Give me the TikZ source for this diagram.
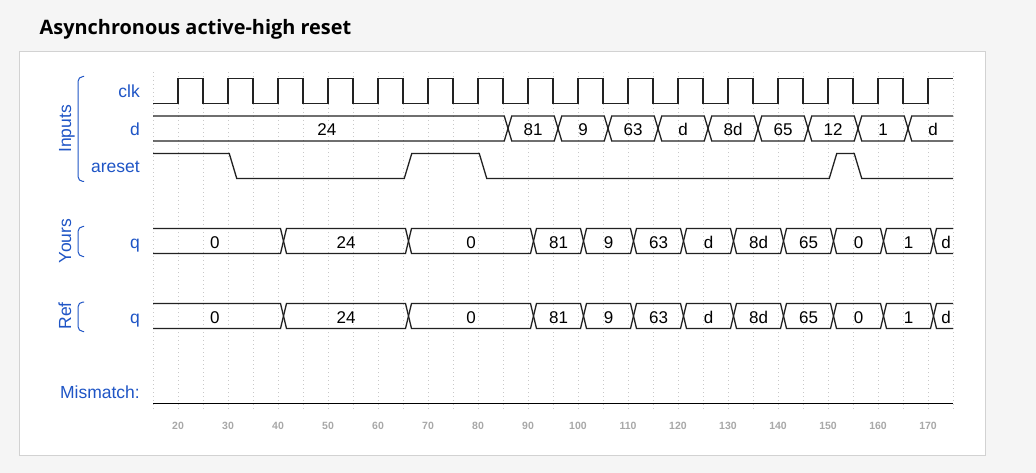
\documentclass[tikz,border=0pt]{standalone}
\usepackage{fontspec}
\setmainfont{Liberation Sans}
\newfontfamily\titlefont{Open Sans}
\usepackage{tikz}
\definecolor{lblblue}{HTML}{1F55C6}
\definecolor{gridgray}{HTML}{C8C8C8}
\definecolor{tickgray}{HTML}{A8A8A8}
\definecolor{panelline}{HTML}{D2D2D2}
\definecolor{pagebg}{HTML}{F5F5F5}
\definecolor{wave}{HTML}{222222}

\begin{document}
\begin{tikzpicture}[x = 1pt, y = -1pt,
    sig/.style = {draw = wave, line width = 1.3pt},
    siglabel/.style = {text = lblblue, font = \fontsize{17.5}{20}\selectfont, anchor = base east, inner sep = 0pt},
    grouplabel/.style = {text = lblblue, font = \fontsize{17.5}{20}\selectfont, rotate = 90, anchor = base, inner sep = 0pt},
    bracket/.style = {draw = lblblue, line width = 1pt, rounded corners = 5pt},
    busval/.style = {font = \fontsize{17}{19}\selectfont, anchor = base, inner sep = 0pt},
    ticklabel/.style = {text = tickgray, font = \bfseries\fontsize{10.5}{12}\selectfont, anchor = base, inner sep = 0pt},
    gridline/.style = {draw = gridgray, line width = 0.8pt, dash pattern = on 1pt off 3pt}]
    \useasboundingbox (0,0) rectangle (1036,473);
    \fill[pagebg] (0,0) rectangle (1036,473);
    \node[anchor = base west, inner sep = 0pt, font = \titlefont\bfseries\fontsize{19.9}{22}\selectfont] (title) at (39.5,35) {Asynchronous active-high reset};
    \draw[draw = panelline, fill = white] (19.5,51.5) rectangle (985.5,455.5);
        % Labels
    \node[siglabel] (clk) at (140,98) {clk};
    \node[siglabel] (d) at (140,135.5) {d};
    \node[siglabel] (areset) at (140,172.5) {areset};
    \node[siglabel] (yq) at (140,248) {q};
    \node[siglabel] (rq) at (140,323) {q};
    \node[siglabel] (mismatch) at (140,398) {Mismatch:};
    \node[grouplabel] (inputs) at (71,129) {Inputs};
    \node[grouplabel] (yours) at (71,241) {Yours};
    \node[grouplabel] (ref) at (71,316) {Ref};
    \draw[bracket] (84,76.5) -- (78,76.5) -- (78,181.5) -- (84,181.5);
    \draw[bracket] (84,226.5) -- (78,226.5) -- (78,256.5) -- (84,256.5);
    \draw[bracket] (84,302) -- (78,302) -- (78,331.5) -- (84,331.5);
        % Waves
    \begin{scope}[x = 5pt, xshift = 78pt]
        \foreach \tm in {15,20,...,175} \draw[gridline] (\tm,72) -- (\tm,409);
        \foreach \tm in {20,30,...,170} \node[ticklabel] (tick\tm) at (\tm,429) {\tm};
        \begin{scope}
            \clip (15,60) rectangle (175,420);
            \draw[sig] (15,103.5) \foreach \k in {20,30,...,160} { -- (\k,103.5) -- (\k,78.5) -- (\k+5,78.5) -- (\k+5,103.5) } -- (170,103.5) -- (170,78.5) -- (175,78.5);
            \foreach \ta/\tb/\v [count = \i] in {12.5/85/24, 85/95/81, 95/105/9, 105/115/63, 115/125/d, 125/135/8d, 135/145/65, 145/155/12, 155/165/1, 165/175/d} {
                \draw[sig] (\ta+1,128.5) -- (\ta+1.75,116) -- (\tb+0.25,116) -- (\tb+1,128.5) -- (\tb+0.25,141) -- (\ta+1.75,141) -- cycle;
                \node[busval] (dv\i) at ({(\ta+\tb)/2+1},135.5) {\v};
            }
            \draw[sig] (15,153.5) -- (30.25,153.5) -- (31.75,178.5) -- (65.25,178.5) -- (66.75,153.5) -- (80.25,153.5) -- (81.75,178.5) -- (150.25,178.5) -- (151.75,153.5) -- (155.25,153.5) -- (156.75,178.5) -- (175,178.5);
            \foreach \ta/\tb/\v [count = \i] in {12.5/40/0, 40/65/24, 65/90/0, 90/100/81, 100/110/9, 110/120/63, 120/130/d, 130/140/8d, 140/150/65, 150/160/0, 160/170/1, 170/175/d} {
                \draw[sig] (\ta+1.1,241) -- (\ta+1.7,228.5) -- (\tb+0.5,228.5) -- (\tb+1.1,241) -- (\tb+0.5,253.5) -- (\ta+1.7,253.5) -- cycle;
                \node[busval] (yv\i) at ({(\ta+\tb)/2+1.1},248) {\v};
                \draw[sig] (\ta+1.1,316) -- (\ta+1.7,303.5) -- (\tb+0.5,303.5) -- (\tb+1.1,316) -- (\tb+0.5,328.5) -- (\ta+1.7,328.5) -- cycle;
                \node[busval] (rv\i) at ({(\ta+\tb)/2+1.1},323) {\v};
            }
        \end{scope}
        \draw[line width = 1.6pt] (15,403.5) -- (175,403.5);
    \end{scope}
\end{tikzpicture}
\end{document}
